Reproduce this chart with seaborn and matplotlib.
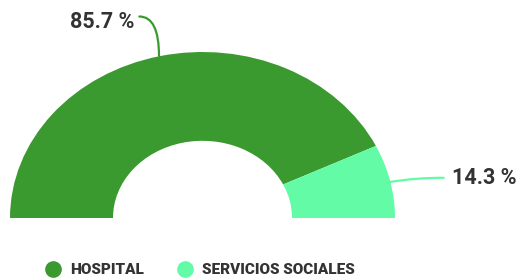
import matplotlib
matplotlib.use("Agg")
import matplotlib.pyplot as plt
from matplotlib.lines import Line2D
import seaborn as sns

# data
categories = ["HOSPITAL", "SERVICIOS SOCIALES"]
values = [85.7, 14.3]
labels = ["85.7 %", "14.3 %"]
colors = ["#3a9a2f", "#64fba6"]

sns.set_theme(style="white")
plt.rcParams["font.family"] = ["Roboto", "DejaVu Sans"]

W, H = 517, 278
fig = plt.figure(figsize=(W / 100, H / 100), dpi=100)
ax = fig.add_axes([0, 0, 1, 1])

# half donut: a hidden bottom half takes the other 180 degrees
wedges, _ = ax.pie(values + [sum(values)], startangle=180, counterclock=False,
                   colors=colors + ["none"], radius=1,
                   wedgeprops=dict(width=0.535, linewidth=0))
wedges[-1].set_visible(False)

# pixel layout: centre at (202.5, 218 from top), radii 192.5 x 166 px
cx, cy, rx, ry = 202.5, 60, 192.5, 166
ax.set_aspect("auto")
ax.set_xlim(-cx / rx, (W - cx) / rx)
ax.set_ylim(-cy / ry, (H - cy) / ry)
ax.axis("off")

def px(x, y_top):
    return ((x - cx) / rx, (H - y_top - cy) / ry)

txt_color = "#333333"
ax.annotate(labels[0], xy=px(159, 56), xytext=px(102, 22),
            ha="center", va="center", fontsize=15.5, fontweight="bold", color=txt_color,
            arrowprops=dict(arrowstyle="-", color=colors[0], lw=1.6,
                            shrinkA=0, shrinkB=0,
                            patchA=None,
                            connectionstyle="angle3,angleA=0,angleB=90",
                            relpos=(1.08, 0.75)))
ax.annotate(labels[1], xy=px(390, 182), xytext=px(452, 178),
            ha="left", va="center", fontsize=15.5, fontweight="bold", color=txt_color,
            arrowprops=dict(arrowstyle="-", color=colors[1], lw=1.6,
                            shrinkA=6, shrinkB=0, patchA=None,
                            connectionstyle="arc3,rad=0.05",
                            relpos=(0, 0.5)))

handles = [Line2D([], [], marker="o", ls="", ms=11, color=c) for c in colors]
leg = ax.legend(handles, categories, loc="center left",
                bbox_to_anchor=(32 / W, 8 / H), bbox_transform=fig.transFigure,
                ncol=2, frameon=False, handlelength=1.0, handletextpad=0.6,
                columnspacing=2.2, prop=dict(family="Roboto", weight="heavy", size=11))
for t in leg.get_texts():
    t.set_color(txt_color)

fig.savefig("out.png", dpi=100)
